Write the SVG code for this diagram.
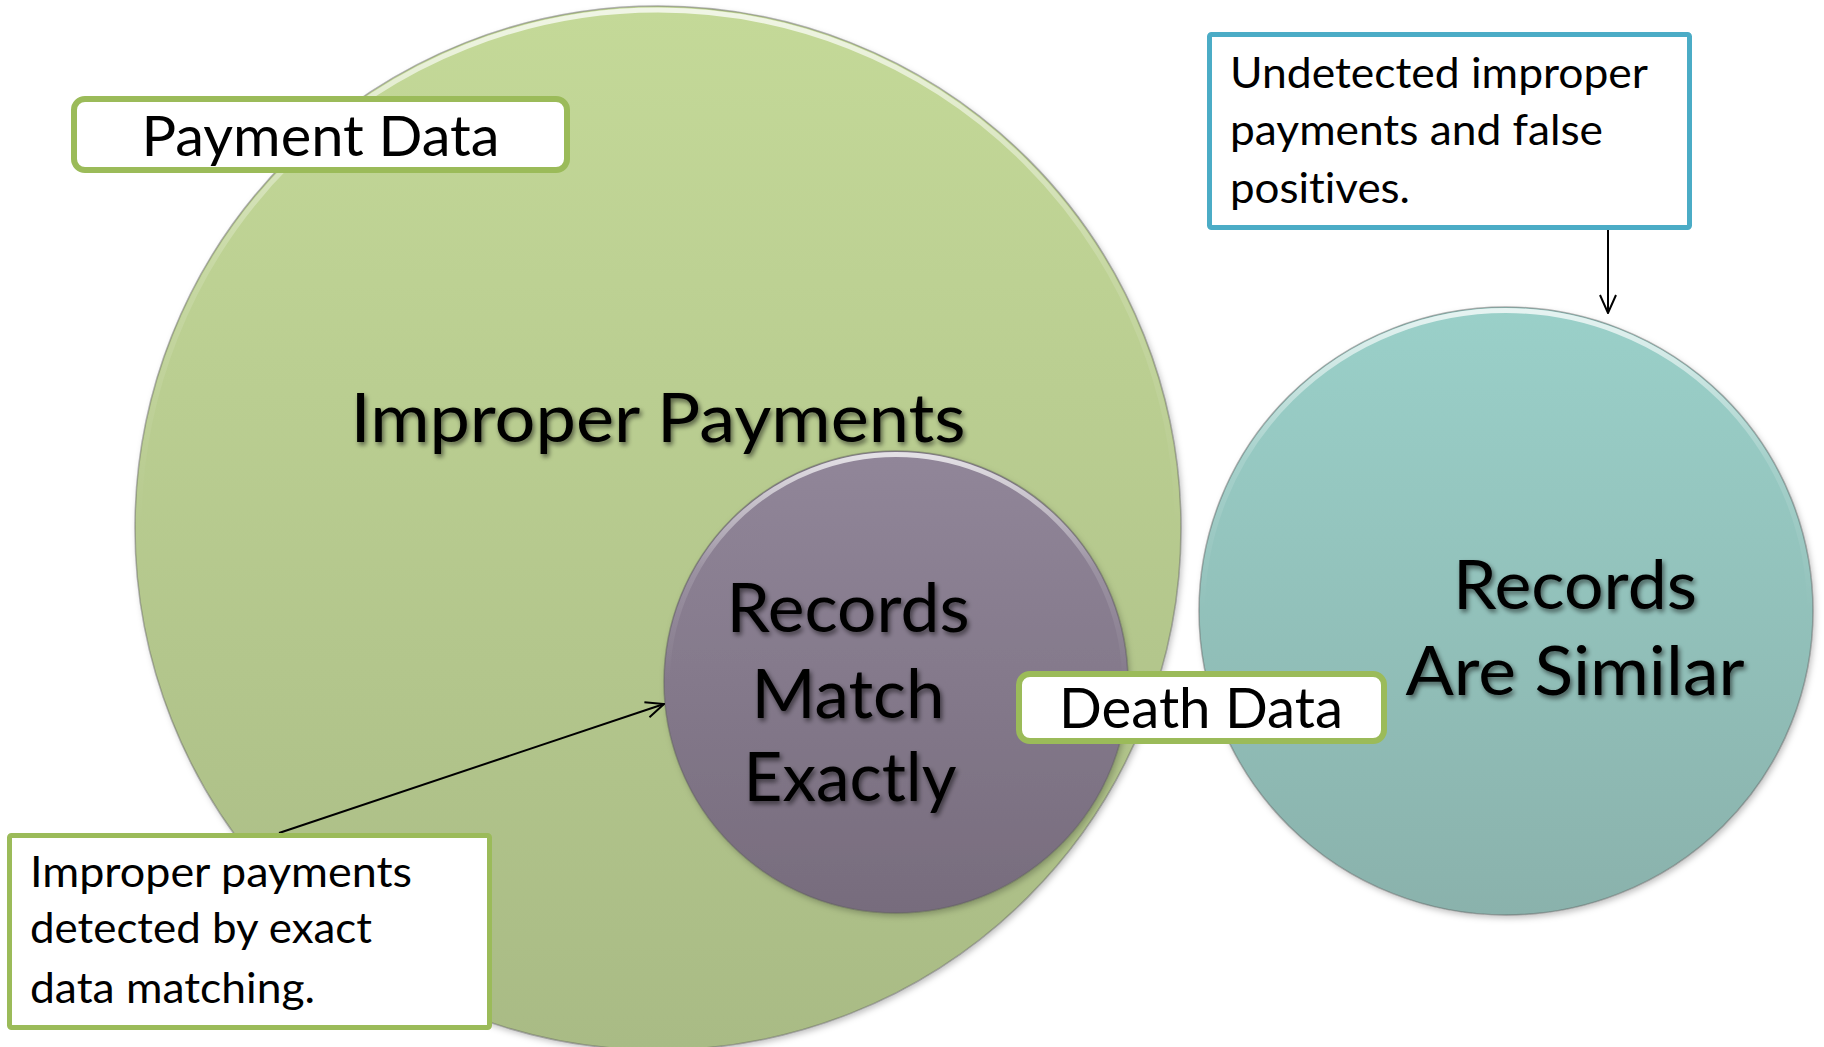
<svg xmlns="http://www.w3.org/2000/svg" width="1824" height="1047" viewBox="0 0 1824 1047">
  <style>
    .lbl { font-family: Lato, "Open Sans", "Liberation Sans", sans-serif; fill: #000; font-variant-ligatures: none; }
    .big { font-size: 68px; }
    .tag { font-size: 56px; }
    .note { font-size: 42px; }
    .rim { fill: none; stroke: #5a5a5a; stroke-opacity: 0.45; stroke-width: 1.5; }
    .shine { fill: none; stroke: url(#shineGrad); stroke-width: 5; }
    .tagbox { fill: #fff; stroke: #9BBB59; stroke-width: 6; }
    .notebox { fill: #fff; stroke-width: 5; }
    .conn { stroke: #000; stroke-width: 2; fill: none; marker-end: url(#openArrow); }
  </style>
  <defs>
    <linearGradient id="greenGrad" x1="0" y1="0" x2="0" y2="1">
      <stop offset="0" stop-color="#C4D998"/>
      <stop offset="1" stop-color="#A9BB85"/>
    </linearGradient>
    <linearGradient id="purpleGrad" x1="0" y1="0" x2="0" y2="1">
      <stop offset="0" stop-color="#918699"/>
      <stop offset="1" stop-color="#776C7D"/>
    </linearGradient>
    <linearGradient id="tealGrad" x1="0" y1="0" x2="0" y2="1">
      <stop offset="0" stop-color="#9AD0C9"/>
      <stop offset="1" stop-color="#8AB2AC"/>
    </linearGradient>
    <linearGradient id="shineGrad" x1="0" y1="0" x2="0" y2="1">
      <stop offset="0" stop-color="#fff" stop-opacity="0.75"/>
      <stop offset="0.25" stop-color="#fff" stop-opacity="0.15"/>
      <stop offset="0.5" stop-color="#fff" stop-opacity="0"/>
    </linearGradient>
    <filter id="softShadow" x="-5%" y="-5%" width="110%" height="110%">
      <feDropShadow dx="2" dy="3" stdDeviation="3" flood-color="#000" flood-opacity="0.25"/>
    </filter>
    <filter id="textShadow" x="-10%" y="-30%" width="120%" height="160%">
      <feGaussianBlur in="SourceAlpha" stdDeviation="2.5"/>
      <feOffset dx="2" dy="3" result="blur"/>
      <feComponentTransfer in="blur" result="shade">
        <feFuncA type="linear" slope="0.55"/>
      </feComponentTransfer>
      <feMerge>
        <feMergeNode in="shade"/>
        <feMergeNode in="SourceGraphic"/>
      </feMerge>
    </filter>
    <marker id="openArrow" viewBox="0 0 20 20" refX="19" refY="10" markerWidth="20" markerHeight="20" markerUnits="userSpaceOnUse" orient="auto">
      <path d="M1,2 L19,10 L1,18" fill="none" stroke="#000" stroke-width="2"/>
    </marker>
  </defs>

  <rect width="1824" height="1047" fill="#fff"/>

  <!-- Payment data set -->
  <g id="payment-circle">
    <ellipse cx="658" cy="528" rx="523" ry="522" fill="url(#greenGrad)" filter="url(#softShadow)"/>
    <ellipse cx="658" cy="528" rx="523" ry="522" class="rim"/>
    <ellipse cx="658" cy="528" rx="519" ry="518" class="shine"/>
    <text class="lbl big" x="658" y="442" text-anchor="middle" textLength="615" lengthAdjust="spacingAndGlyphs" filter="url(#textShadow)">Improper Payments</text>
  </g>

  <!-- Exact matches -->
  <g id="exact-circle">
    <ellipse cx="896" cy="682" rx="232" ry="231" fill="url(#purpleGrad)" filter="url(#softShadow)"/>
    <ellipse cx="896" cy="682" rx="232" ry="231" class="rim"/>
    <ellipse cx="896" cy="682" rx="228.5" ry="227.5" class="shine"/>
    <g filter="url(#textShadow)">
      <text class="lbl big" x="848" y="632" text-anchor="middle" textLength="243" lengthAdjust="spacingAndGlyphs">Records</text>
      <text class="lbl big" x="848" y="718" text-anchor="middle" textLength="193" lengthAdjust="spacingAndGlyphs">Match</text>
      <text class="lbl big" x="850" y="801" text-anchor="middle" textLength="213" lengthAdjust="spacingAndGlyphs">Exactly</text>
    </g>
  </g>

  <!-- Similar matches -->
  <g id="similar-circle">
    <ellipse cx="1506" cy="611" rx="307" ry="304" fill="url(#tealGrad)" filter="url(#softShadow)"/>
    <ellipse cx="1506" cy="611" rx="307" ry="304" class="rim"/>
    <ellipse cx="1506" cy="611" rx="303.5" ry="300.5" class="shine"/>
    <g filter="url(#textShadow)">
      <text class="lbl big" x="1575" y="609" text-anchor="middle" textLength="244" lengthAdjust="spacingAndGlyphs">Records</text>
      <text class="lbl big" x="1575" y="695" text-anchor="middle" textLength="339" lengthAdjust="spacingAndGlyphs">Are Similar</text>
    </g>
  </g>

  <!-- Callout pointers -->
  <g id="connectors">
    <line class="conn" x1="279" y1="833" x2="664" y2="704"/>
    <line class="conn" x1="1608" y1="230" x2="1608" y2="313"/>
  </g>

  <!-- Set labels -->
  <g id="payment-data-label">
    <rect class="tagbox" x="74" y="99" width="493" height="71" rx="11"/>
    <text class="lbl tag" x="320.5" y="156" text-anchor="middle" textLength="358" lengthAdjust="spacingAndGlyphs">Payment Data</text>
  </g>

  <g id="death-data-label">
    <rect class="tagbox" x="1019" y="674" width="365" height="67" rx="11"/>
    <text class="lbl tag" x="1201" y="728" text-anchor="middle" textLength="284" lengthAdjust="spacingAndGlyphs">Death Data</text>
  </g>

  <!-- Notes -->
  <g id="undetected-note">
    <rect class="notebox" x="1209.5" y="34.5" width="480" height="193" rx="2" stroke="#4BACC6"/>
    <text class="lbl note" x="1230" y="88" textLength="418" lengthAdjust="spacingAndGlyphs">Undetected improper</text>
    <text class="lbl note" x="1230" y="145" textLength="373" lengthAdjust="spacingAndGlyphs">payments and false</text>
    <text class="lbl note" x="1230" y="203" textLength="180" lengthAdjust="spacingAndGlyphs">positives.</text>
  </g>

  <g id="detected-note">
    <rect class="notebox" x="9.5" y="835.5" width="480" height="192" rx="2" stroke="#9BBB59"/>
    <text class="lbl note" x="30" y="887" textLength="382" lengthAdjust="spacingAndGlyphs">Improper payments</text>
    <text class="lbl note" x="30" y="943" textLength="342" lengthAdjust="spacingAndGlyphs">detected by exact</text>
    <text class="lbl note" x="30" y="1003" textLength="285" lengthAdjust="spacingAndGlyphs">data matching.</text>
  </g>
</svg>
